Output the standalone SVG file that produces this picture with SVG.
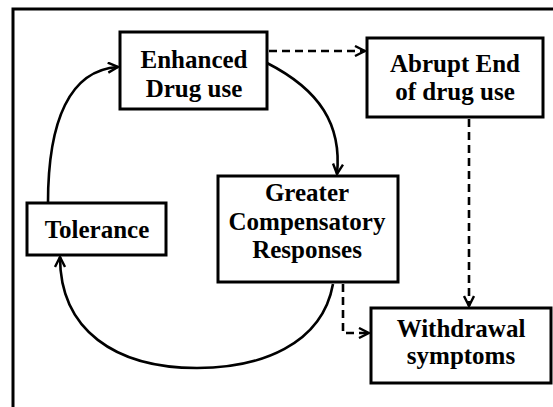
<svg xmlns="http://www.w3.org/2000/svg" width="553" height="407" viewBox="0 0 553 407">
  <style>
    .box { fill: #ffffff; stroke: #000000; stroke-width: 3; }
    .lbl { font-family: "Liberation Serif", "Times New Roman", serif; font-weight: bold; font-size: 25px; fill: #000000; text-anchor: middle; }
    .link { fill: none; stroke: #000000; stroke-width: 2.6; }
    .dash { stroke-dasharray: 8 5; }
  </style>
  <defs>
    <marker id="chev" viewBox="0 0 12 12" refX="11" refY="6" markerWidth="12" markerHeight="12" markerUnits="userSpaceOnUse" orient="auto">
      <path d="M1,1 L11,6 L1,11" fill="none" stroke="#000000" stroke-width="2.4"/>
    </marker>
  </defs>
  <rect width="553" height="407" fill="#ffffff"/>
  <!-- outer frame (only top and left sides visible) -->
  <path d="M13,407 L13,9 L553,9" fill="none" stroke="#000000" stroke-width="3"/>

  <g id="connectors">
    <path class="link" d="M48,203 C48,120 70,70 118,67" marker-end="url(#chev)"/>
    <path class="link" d="M267,63 C320,90 342,125 337,174" marker-end="url(#chev)"/>
    <path class="link dash" d="M269,51 L365,51" marker-end="url(#chev)"/>
    <path class="link dash" d="M469,119 L469,306" marker-end="url(#chev)"/>
    <path class="link dash" d="M343,284 L343,333 L369,333" marker-end="url(#chev)"/>
    <path class="link" d="M333,284 C322,345 260,368 197,368 C115,368 60,330 60,257" marker-end="url(#chev)"/>
  </g>

  <g id="enhanced">
    <rect class="box" x="120" y="32" width="147" height="77"/>
    <text class="lbl" x="194" y="68">Enhanced</text>
    <text class="lbl" x="194" y="97">Drug use</text>
  </g>
  <g id="abrupt">
    <rect class="box" x="367" y="38" width="176" height="79"/>
    <text class="lbl" x="455" y="72">Abrupt End</text>
    <text class="lbl" x="455" y="100">of drug use</text>
  </g>
  <g id="greater">
    <rect class="box" x="218" y="176" width="180" height="106"/>
    <text class="lbl" x="307" y="201">Greater</text>
    <text class="lbl" x="307" y="230">Compensatory</text>
    <text class="lbl" x="307" y="258">Responses</text>
  </g>
  <g id="tolerance">
    <rect class="box" x="27" y="203" width="139" height="52"/>
    <text class="lbl" x="97" y="238">Tolerance</text>
  </g>
  <g id="withdrawal">
    <rect class="box" x="371" y="308" width="180" height="75"/>
    <text class="lbl" x="461" y="337">Withdrawal</text>
    <text class="lbl" x="461" y="364">symptoms</text>
  </g>
</svg>
